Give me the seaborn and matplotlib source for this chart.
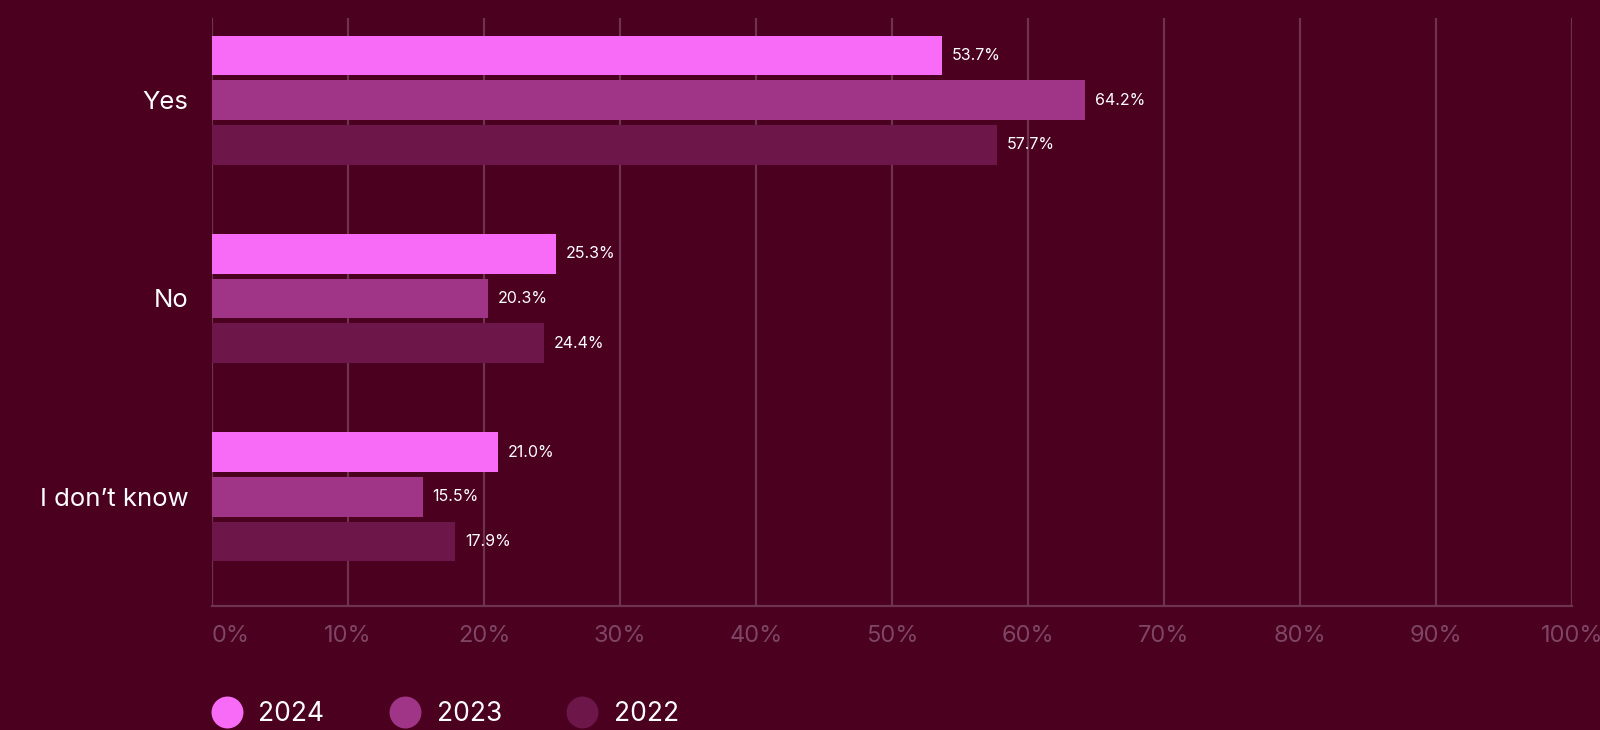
import matplotlib
matplotlib.use("Agg")
import matplotlib.pyplot as plt
from matplotlib.lines import Line2D
import seaborn as sns
import pandas as pd

# Survey answers by year (percent)
answers = ["Yes", "No", "I don\u2019t know"]
years = ["2024", "2023", "2022"]
values_2024 = [53.7, 25.3, 21.0]
values_2023 = [64.2, 20.3, 15.5]
values_2022 = [57.7, 24.4, 17.9]
tick_values = [0, 10, 20, 30, 40, 50, 60, 70, 80, 90, 100]
tick_labels = [f"{t}%" for t in tick_values]

BG = "#4a001e"
GRID = "#6e3350"
TICK = "#7e4565"
colors = ["#f76bf6", "#a03588", "#6d164a"]

rows = []
for yr, vals in zip(years, [values_2024, values_2023, values_2022]):
    for ans, v in zip(answers, vals):
        rows.append({"answer": ans, "year": yr, "value": v})
df = pd.DataFrame(rows)

sns.set_theme(style="white")
plt.rcParams["font.family"] = ["Inter", "DejaVu Sans"]

fig = plt.figure(figsize=(16, 7.3), dpi=100, facecolor=BG)
ax = fig.add_axes([0.1325, 0.170, 0.85, 0.805])
ax.set_facecolor(BG)

sns.barplot(data=df, y="answer", x="value", hue="year", order=answers,
            hue_order=years, palette=colors, orient="h", width=0.675,
            gap=0.11, saturation=1, ax=ax, legend=False, linewidth=0,
            zorder=3)

for cont in ax.containers:
    ax.bar_label(cont, labels=[f"{w:.1f}%" for w in cont.datavalues],
                 padding=7, color="white", fontsize=11.5)

ax.set_xlim(0, 100)
ax.set_ylim(2.55, -0.413)
ax.set_xticks(tick_values)
ax.set_xticklabels(tick_labels)
ax.grid(axis="x", color=GRID, linewidth=1.6, zorder=0)
ax.grid(axis="y", visible=False)
for s in ["top", "right", "left"]:
    ax.spines[s].set_visible(False)
ax.spines["bottom"].set_color(GRID)
ax.spines["bottom"].set_linewidth(1.6)
ax.tick_params(axis="x", length=0, pad=14, labelsize=17, labelcolor=TICK)
ax.tick_params(axis="y", length=0, pad=17, labelsize=18.5, labelcolor="white")
ax.xaxis.get_majorticklabels()[0].set_horizontalalignment("left")
ax.set_xlabel("")
ax.set_ylabel("")

handles = [Line2D([0], [0], marker="o", linestyle="", markersize=23,
                  markerfacecolor=c, markeredgewidth=0) for c in colors]
fig.legend(handles, years, loc="center left", bbox_to_anchor=(0.117, 0.022),
           ncol=3, frameon=False, fontsize=19, labelcolor="white",
           handletextpad=0.2, columnspacing=2.05, borderpad=0)

fig.savefig("out.png", dpi=100, facecolor=BG)
